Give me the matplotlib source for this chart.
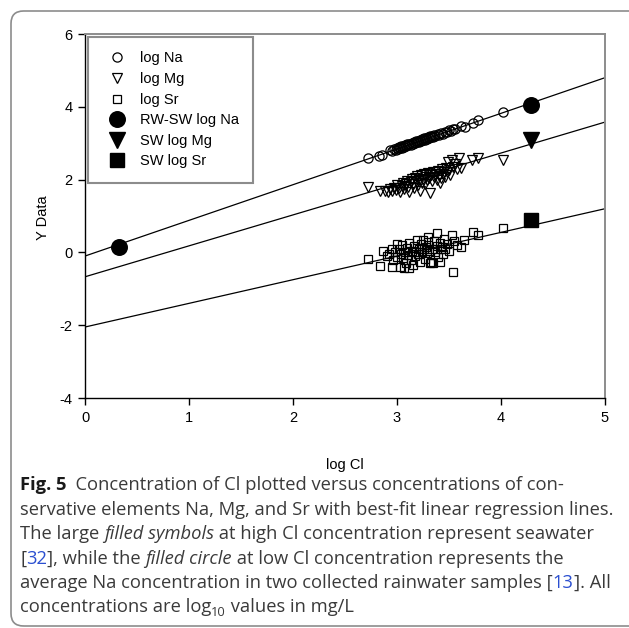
import matplotlib
matplotlib.use("Agg")
import matplotlib.pyplot as plt
from matplotlib.lines import Line2D
from matplotlib.patches import FancyBboxPatch
import numpy as np

# ---- data ----
na_x = [2.72, 2.83, 2.86, 2.93, 2.95, 2.97, 2.99, 3.00, 3.01, 3.02, 3.03, 3.04, 3.05, 3.06,
        3.07, 3.08, 3.09, 3.10, 3.11, 3.12, 3.13, 3.14, 3.15, 3.16, 3.17, 3.18, 3.19, 3.20,
        3.21, 3.22, 3.23, 3.24, 3.25, 3.26, 3.27, 3.28, 3.29, 3.30, 3.31, 3.32, 3.33, 3.34,
        3.35, 3.36, 3.37, 3.39, 3.40, 3.42, 3.44, 3.46, 3.48, 3.50, 3.52, 3.54, 3.56, 3.62,
        3.65, 3.73, 3.78, 4.02]
na_y = [2.59, 2.66, 2.68, 2.80, 2.78, 2.84, 2.82, 2.87, 2.83, 2.89, 2.86, 2.91, 2.88, 2.93,
        2.90, 2.95, 2.92, 2.97, 2.94, 2.99, 2.96, 3.01, 2.98, 3.03, 3.00, 3.05, 3.02, 3.07,
        3.04, 3.09, 3.06, 3.11, 3.08, 3.13, 3.10, 3.15, 3.12, 3.17, 3.14, 3.19, 3.16, 3.20,
        3.18, 3.23, 3.21, 3.25, 3.22, 3.28, 3.26, 3.31, 3.30, 3.36, 3.34, 3.40, 3.38, 3.47,
        3.45, 3.55, 3.63, 3.85]

mg_x = [2.72, 2.84, 2.88, 2.91, 2.93, 2.95, 2.97, 2.99, 3.00, 3.02, 3.03, 3.05, 3.06, 3.07,
        3.09, 3.10, 3.11, 3.12, 3.13, 3.14, 3.15, 3.16, 3.17, 3.18, 3.19, 3.20, 3.21, 3.22,
        3.23, 3.24, 3.25, 3.26, 3.27, 3.28, 3.29, 3.30, 3.31, 3.32, 3.33, 3.34, 3.35, 3.36,
        3.37, 3.38, 3.39, 3.40, 3.41, 3.42, 3.43, 3.44, 3.45, 3.46, 3.47, 3.48, 3.49, 3.50,
        3.51, 3.53, 3.54, 3.56, 3.58, 3.60, 3.62, 3.72, 3.78, 4.02]
mg_y = [1.81, 1.68, 1.70, 1.66, 1.74, 1.69, 1.78, 1.72, 1.85, 1.76, 1.66, 1.82, 1.90, 1.75,
        1.87, 1.97, 1.80, 1.66, 1.93, 2.02, 1.88, 1.78, 2.05, 1.95, 2.10, 1.85, 2.00, 1.70,
        2.12, 1.92, 2.03, 2.15, 1.88, 2.08, 1.98, 2.18, 2.05, 1.62, 2.12, 1.95, 2.22, 2.08,
        2.15, 2.00, 2.25, 2.10, 1.90, 2.05, 2.28, 2.15, 2.22, 2.08, 2.32, 2.20, 2.48, 2.26,
        2.14, 2.53, 2.35, 2.42, 2.30, 2.58, 2.33, 2.53, 2.58, 2.55]

sr_x = [2.72, 2.84, 2.87, 2.90, 2.92, 2.95, 2.95, 2.96, 2.98, 3.00, 3.00, 3.03, 3.02, 3.04,
        3.05, 3.06, 3.07, 3.08, 3.09, 3.10, 3.11, 3.12, 3.12, 3.13, 3.14, 3.15, 3.16, 3.17,
        3.18, 3.19, 3.20, 3.21, 3.22, 3.23, 3.24, 3.25, 3.26, 3.27, 3.28, 3.29, 3.30, 3.30,
        3.31, 3.32, 3.33, 3.34, 3.35, 3.36, 3.37, 3.38, 3.38, 3.39, 3.41, 3.41, 3.42, 3.43,
        3.44, 3.45, 3.46, 3.48, 3.50, 3.53, 3.54, 3.55, 3.58, 3.62, 3.64, 3.73, 3.78, 4.02]
sr_y = [-0.19, -0.36, 0.05, -0.10, -0.05, 0.10, -0.39, -0.20, 0.02, -0.12, 0.24, -0.40, 0.08, -0.05,
        0.20, -0.15, -0.42, 0.00, -0.30, 0.12, -0.08, 0.25, -0.44, -0.20, 0.05, -0.35, 0.18, -0.10,
        0.02, 0.33, -0.05, 0.10, -0.25, 0.22, 0.00, 0.35, 0.08, -0.18, 0.15, -0.02, 0.28, 0.42,
        0.05, -0.30, -0.27, 0.10, -0.30, 0.32, 0.02, 0.18, 0.52, -0.12, -0.27, 0.25, 0.08, 0.15,
        -0.05, 0.38, 0.10, 0.22, 0.05, 0.49, -0.55, 0.30, 0.20, 0.16, 0.33, 0.55, 0.49, 0.66]

rw_na = (0.33, 0.16)          # rainwater average
sw_cl = 4.29                  # seawater log Cl
sw_na, sw_mg, sw_sr = 4.05, 3.08, 0.88

# best-fit lines (slope, intercept)
na_fit = (0.98, -0.10)
mg_fit = (0.85, -0.67)
sr_fit = (0.65, -2.05)

x_ticks = [0, 1, 2, 3, 4, 5]
y_ticks = [-4, -2, 0, 2, 4, 6]

caption = [
    [("Fig. 5", "bold"), ("  Concentration of Cl plotted versus concentrations of con-", "rm")],
    [("servative elements Na, Mg, and Sr with best-fit linear regression lines.", "rm")],
    [("The large ", "rm"), ("filled symbols", "it"), (" at high Cl concentration represent seawater", "rm")],
    [("[", "rm"), ("32", "link"), ("], while the ", "rm"), ("filled circle", "it"),
     (" at low Cl concentration represents the", "rm")],
    [("average Na concentration in two collected rainwater samples [", "rm"), ("13", "link"), ("]. All", "rm")],
    [("concentrations are log", "rm"), ("10", "sub"), (" values in mg/L", "rm")],
]

W, H = 629, 628
plt.rcParams["font.family"] = ["Liberation Sans", "DejaVu Sans"]
plt.rcParams["axes.unicode_minus"] = False
fig = plt.figure(figsize=(W / 100, H / 100), dpi=100)

# outer rounded frame (open on the right, like the source page)
fig.add_artist(FancyBboxPatch((11 / W, 1 - 626 / H), (645 - 11) / W, (626 - 11) / H,
                              boxstyle="round,pad=0,rounding_size=0.02",
                              transform=fig.transFigure, fill=False,
                              edgecolor="#8c8c8c", linewidth=1.2, clip_on=False))

ax = fig.add_axes([85 / W, 1 - 398 / H, 520 / W, 364 / H])

xs = np.array([0, 5])
for m, b in (na_fit, mg_fit, sr_fit):
    ax.plot(xs, m * xs + b, color="black", linewidth=0.9, zorder=2)

MS_O, MS_V, MS_S = 6.6, 7.6, 6.4
open_kw = dict(ls="none", mfc="none", mec="black", mew=0.9, zorder=3)
ax.plot(na_x, na_y, marker="o", ms=MS_O, **open_kw)
ax.plot(mg_x, mg_y, marker="v", ms=MS_V, **open_kw)
ax.plot(sr_x, sr_y, marker="s", ms=MS_S, **open_kw)

ax.plot([rw_na[0], sw_cl], [rw_na[1], sw_na], ls="none", marker="o", ms=11.2, color="black", zorder=4)
ax.plot([sw_cl], [sw_mg], ls="none", marker="v", ms=11.5, color="black", zorder=4)
ax.plot([sw_cl], [sw_sr], ls="none", marker="s", ms=9.8, color="black", zorder=4)

ax.set_xlim(0, 5)
ax.set_ylim(-4, 6)
ax.set_xticks(x_ticks)
ax.set_yticks(y_ticks)
ax.tick_params(direction="out", length=5, width=1, labelsize=10.5, pad=4,
               top=False, right=False)
for s in ("left", "bottom"):
    ax.spines[s].set_color("black")
    ax.spines[s].set_linewidth(1.0)
for s in ("top", "right"):
    ax.spines[s].set_color("#8c8c8c")
    ax.spines[s].set_linewidth(1.4)

ax.set_xlabel("log Cl", fontsize=10.5, va="center")
ax.xaxis.set_label_coords(0.5, -0.184)
ax.set_ylabel("Y Data", fontsize=10.5, va="center")
ax.yaxis.set_label_coords(-0.081, 0.495)

handles = [
    Line2D([], [], ls="none", marker="o", ms=MS_O, mfc="none", mec="black", mew=0.9, label="log Na"),
    Line2D([], [], ls="none", marker="v", ms=MS_V, mfc="none", mec="black", mew=0.9, label="log Mg"),
    Line2D([], [], ls="none", marker="s", ms=MS_S, mfc="none", mec="black", mew=0.9, label="log Sr"),
    Line2D([], [], ls="none", marker="o", ms=11.2, color="black", label="RW-SW log Na"),
    Line2D([], [], ls="none", marker="v", ms=11.5, color="black", label="SW log Mg"),
    Line2D([], [], ls="none", marker="s", ms=9.8, color="black", label="SW log Sr"),
]
leg = ax.legend(handles=handles, loc="upper left", bbox_to_anchor=(0.006, 0.992),
                borderaxespad=0, fontsize=10.5, frameon=True, fancybox=False,
                borderpad=1.0, labelspacing=0.45, handlelength=2.0, handletextpad=0.55)
leg.get_frame().set_edgecolor("#707070")
leg.get_frame().set_linewidth(1.5)

# ---- caption, drawn run by run ----
cap_font = ["Open Sans", "DejaVu Sans"]
styles = {
    "rm": dict(color="#3a3a3a"),
    "bold": dict(color="#1a1a1a", weight="bold"),
    "it": dict(color="#3a3a3a", style="italic"),
    "link": dict(color="#2b4fd0"),
    "sub": dict(color="#3a3a3a"),
}
renderer = fig.canvas.get_renderer()


def text_w(s, size, **kw):
    t = fig.text(0, 0, s, fontsize=size, family=cap_font, **kw)
    w = t.get_window_extent(renderer).width
    t.remove()
    return w


def advance(s, size, **kw):
    return text_w(s + "|", size, **kw) - text_w("|", size, **kw)


# fit the caption size to the width of the second line
size = 12.0
size *= 590.0 / advance(caption[1][0][0], size, **styles["rm"])

x0, base0, step = 20, 490.5, 24.4
for i, runs in enumerate(caption):
    x = x0
    y = base0 + i * step
    for txt, st in runs:
        sz = size * 0.7 if st == "sub" else size
        yy = y + (4 if st == "sub" else 0)
        fig.text(x / W, 1 - yy / H, txt, fontsize=sz, family=cap_font,
                 va="baseline", ha="left", **styles[st])
        x += advance(txt, sz, **styles[st])

fig.savefig("out.png", dpi=100)
